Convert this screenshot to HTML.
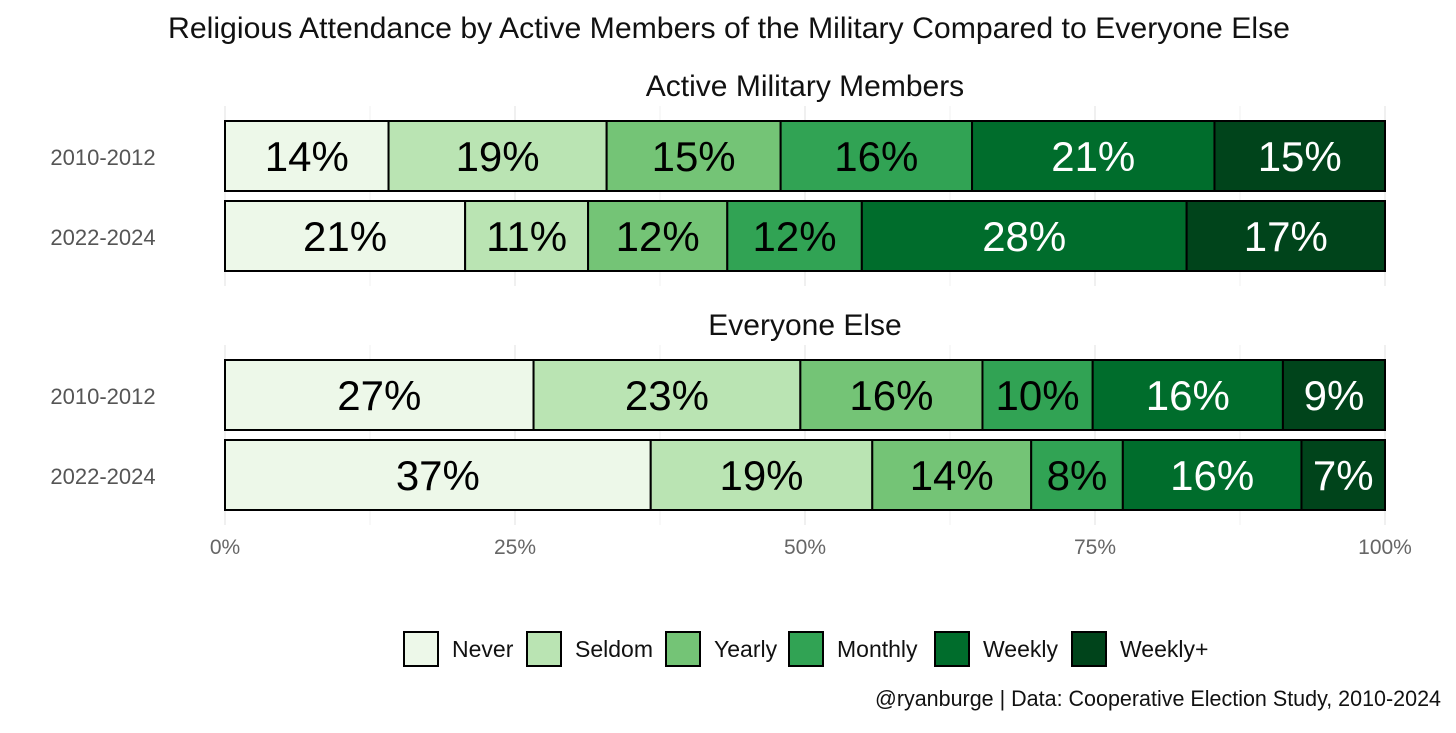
<!DOCTYPE html>
<html><head><meta charset="utf-8"><style>
body{margin:0;background:#fff;}
svg text{font-family:"Liberation Sans Narrow","Liberation Sans",sans-serif;}
</style></head><body>
<svg id="chart" width="1456" height="728" viewBox="0 0 1456 728" xmlns="http://www.w3.org/2000/svg">
<rect width="1456" height="728" fill="#fff"/>
<text x="729" y="38" font-size="30" text-anchor="middle" fill="#111" textLength="1122" lengthAdjust="spacingAndGlyphs">Religious Attendance by Active Members of the Military Compared to Everyone Else</text>
<g id="grid"></g>
<g id="bars"></g>
<g id="legend"></g>
<text x="1441" y="706" font-size="22" text-anchor="end" fill="#111" textLength="566" lengthAdjust="spacingAndGlyphs">@ryanburge | Data: Cooperative Election Study, 2010-2024</text>
</svg>
<script>
const categories = ["Never","Seldom","Yearly","Monthly","Weekly","Weekly+"];
const colors = ["#edf8e9","#bae4b3","#74c476","#31a354","#006d2c","#00441b"];
const panels = ["Active Military Members","Everyone Else"];
const years = ["2010-2012","2022-2024"];
const milA = [14.1,18.8,15.0,16.5,20.9,14.7];
const milB = [20.7,10.6,12.0,11.6,28.0,17.1];
const allA = [26.6,23.0,15.7,9.5,16.4,8.8];
const allB = [36.7,19.1,13.7,7.9,15.4,7.2];
const milALabels = [14,19,15,16,21,15];
const milBLabels = [21,11,12,12,28,17];
const allALabels = [27,23,16,10,16,9];
const allBLabels = [37,19,14,8,16,7];
const series = [[milA,milB],[allA,allB]];
const seriesLabels = [[milALabels,milBLabels],[allALabels,allBLabels]];
const ticks = [0,25,50,75,100];
const tickLabels = ["0%","25%","50%","75%","100%"];

const NS="http://www.w3.org/2000/svg";
const x0=225,x1=1385;
const xs=v=>x0+(x1-x0)*v/100;
function mk(tag,attrs,parent,txt){const e=document.createElementNS(NS,tag);for(const k in attrs)e.setAttribute(k,attrs[k]);if(txt!==undefined)e.textContent=txt;parent.appendChild(e);return e;}
const grid=document.getElementById('grid'),bars=document.getElementById('bars'),leg=document.getElementById('legend');
const panelTop=[106,345];
panelTop.forEach((pt,pi)=>{
  for(let t=0;t<=100;t+=12.5){
    const l=mk('line',{x1:xs(t),x2:xs(t),y1:pt,y2:pt+180,stroke:t%25===0?'#e6e6e6':'#f2f2f2','stroke-width':1.2},grid);
    
    
  }
  const ft=mk('text',{x:805,y:pi===0?96:335,'font-size':30,'text-anchor':'middle',fill:'#111'},bars,panels[pi]);
  
  
  years.forEach((yr,ri)=>{
    const y=pt+15+ri*80;
    const yl=mk('text',{x:103,y:y+44,'font-size':22,'text-anchor':'middle',fill:'#555'},bars,yr);
    
    
    let cum=0;
    series[pi][ri].forEach((v,ci)=>{
      const r=mk('rect',{x:xs(cum),y:y,width:xs(cum+v)-xs(cum),height:70,fill:colors[ci],stroke:'#000','stroke-width':2},bars);
      
      
      const t=mk('text',{x:(xs(cum)+xs(cum+v))/2,y:y+50,'font-size':42,'text-anchor':'middle',fill:ci>=4?'#fff':'#000'},bars,seriesLabels[pi][ri][ci]+'%');
      
      
      cum+=v;
    });
  });
});
ticks.forEach((t,i)=>{
  const e=mk('text',{x:xs(t),y:554,'font-size':21,'text-anchor':'middle',fill:'#666'},grid,tickLabels[i]);
  
  
});
const legX=[404,527,666,789,935,1072];
categories.forEach((c,i)=>{
  const r=mk('rect',{x:legX[i],y:632,width:34,height:34,fill:colors[i],stroke:'#000','stroke-width':2},leg);
  
  
  const t=mk('text',{x:legX[i]+48,y:657,'font-size':23,fill:'#111'},leg,c);
  
  
});
</script>
</body></html>
